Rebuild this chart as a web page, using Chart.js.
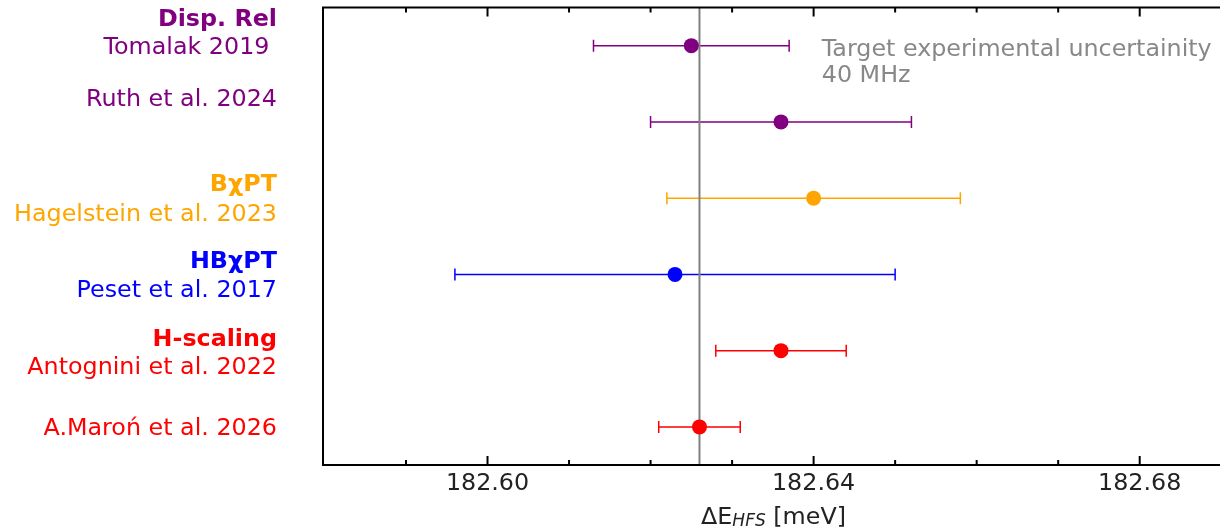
<!DOCTYPE html>
<html>
<head>
<meta charset="utf-8">
<script src="https://cdn.jsdelivr.net/npm/chart.js@4/dist/chart.umd.min.js"></script>
<style>
html,body{margin:0;padding:0;background:#fff;overflow:hidden;}
#wrap{width:1220px;height:531px;position:relative;}
</style>
</head>
<body>
<div id="wrap"><canvas id="c" width="1220" height="531"></canvas></div>
<script>
// ---- data ----
const studies = ['Tomalak 2019', 'Ruth et al. 2024', 'Hagelstein et al. 2023', 'Peset et al. 2017', 'Antognini et al. 2022', 'A.Maroń et al. 2026'];
const rowPositions = [0, 1, 2, 3, 4, 5];
const centralValues = [182.625, 182.636, 182.640, 182.623, 182.636, 182.626];
const uncertainties = [0.012, 0.016, 0.018, 0.027, 0.008, 0.005];
const pointColors = ['#800080', '#800080', '#FFA500', '#0000FF', '#FF0000', '#FF0000'];
const referenceValue = 182.626;

const majorTicks = [182.60, 182.64, 182.68];
const minorTicks = [182.59, 182.61, 182.62, 182.63, 182.65, 182.66, 182.67];

const labelTexts = ['Disp. Rel', 'Tomalak 2019 ', 'Ruth et al. 2024', 'BχPT', 'Hagelstein et al. 2023', 'HBχPT', 'Peset et al. 2017', 'H-scaling', 'Antognini et al. 2022', 'A.Maroń et al. 2026'];
const labelRows = [-0.37, -0.01, 0.68, 1.79, 2.18, 2.8, 3.18, 3.82, 4.19, 4.99];
const labelBold = [true, false, false, true, false, true, false, true, false, false];
const labelColors = ['#800080', '#800080', '#800080', '#FFA500', '#FFA500', '#0000FF', '#0000FF', '#FF0000', '#FF0000', '#FF0000'];

const noteLines = ['Target experimental uncertainity', '40 MHz'];
const noteX = 182.641;
const noteRow = 0.19;

const FONT = "'DejaVu Sans', 'Liberation Sans', sans-serif";
const FS = 23.8;

const drawPlugin = {
  id: 'custom',
  beforeDatasetsDraw(chart) {
    const ctx = chart.ctx, xs = chart.scales.x, ys = chart.scales.y, a = chart.chartArea;
    ctx.save();
    for (let i = 0; i < centralValues.length; i++) {
      const y = ys.getPixelForValue(rowPositions[i]);
      const x1 = xs.getPixelForValue(centralValues[i] - uncertainties[i]);
      const x2 = xs.getPixelForValue(centralValues[i] + uncertainties[i]);
      ctx.strokeStyle = pointColors[i];
      ctx.lineWidth = 1.5;
      ctx.beginPath();
      ctx.moveTo(x1, y); ctx.lineTo(x2, y);
      ctx.moveTo(x1, y - 6); ctx.lineTo(x1, y + 6);
      ctx.moveTo(x2, y - 6); ctx.lineTo(x2, y + 6);
      ctx.stroke();
    }
    const xr = xs.getPixelForValue(referenceValue);
    ctx.strokeStyle = '#808080';
    ctx.lineWidth = 2;
    ctx.beginPath();
    ctx.moveTo(xr, a.top); ctx.lineTo(xr, a.bottom);
    ctx.stroke();
    ctx.restore();
  },
  afterDraw(chart) {
    const ctx = chart.ctx, xs = chart.scales.x, ys = chart.scales.y, a = chart.chartArea;
    ctx.save();
    ctx.strokeStyle = '#000';
    ctx.lineWidth = 2;
    ctx.beginPath();
    ctx.moveTo(chart.width + 2, a.top); ctx.lineTo(a.left, a.top); ctx.lineTo(a.left, a.bottom); ctx.lineTo(chart.width + 2, a.bottom);
    ctx.stroke();
    ctx.beginPath();
    majorTicks.forEach(v => {
      const x = xs.getPixelForValue(v);
      ctx.moveTo(x, a.bottom); ctx.lineTo(x, a.bottom - 9);
      ctx.moveTo(x, a.top); ctx.lineTo(x, a.top + 9);
    });
    minorTicks.forEach(v => {
      const x = xs.getPixelForValue(v);
      ctx.moveTo(x, a.bottom); ctx.lineTo(x, a.bottom - 5);
      ctx.moveTo(x, a.top); ctx.lineTo(x, a.top + 5);
    });
    ctx.stroke();
    ctx.textAlign = 'right';
    ctx.textBaseline = 'alphabetic';
    const capOff = 0.729 * FS / 2;
    for (let i = 0; i < labelTexts.length; i++) {
      ctx.font = (labelBold[i] ? 'bold ' : '') + FS + 'px ' + FONT;
      ctx.fillStyle = labelColors[i];
      ctx.fillText(labelTexts[i], 277, ys.getPixelForValue(labelRows[i]) + capOff);
    }
    ctx.textAlign = 'left';
    ctx.font = FS + 'px ' + FONT;
    ctx.fillStyle = '#888888';
    const nx = xs.getPixelForValue(noteX);
    const ny = ys.getPixelForValue(noteRow);
    ctx.fillText(noteLines[0], nx, ny - 13 + capOff);
    ctx.fillText(noteLines[1], nx, ny + 13 + capOff);
    const partA = 'ΔE', partB = 'HFS', partC = ' [meV]';
    ctx.font = FS + 'px ' + FONT;
    const wA = ctx.measureText(partA).width, wC = ctx.measureText(partC).width;
    ctx.font = 'italic 17px ' + FONT;
    const wB = ctx.measureText(partB).width;
    const total = wA + wB + wC;
    let x0 = (a.left + chart.width) / 2 + 2 - total / 2;
    const by = 524;
    ctx.fillStyle = '#222';
    ctx.font = FS + 'px ' + FONT;
    ctx.fillText(partA, x0, by);
    ctx.font = 'italic 17px ' + FONT;
    ctx.fillText(partB, x0 + wA, by + 2);
    ctx.font = FS + 'px ' + FONT;
    ctx.fillText(partC, x0 + wA + wB, by);
    ctx.restore();
  }
};

new Chart(document.getElementById('c'), {
  type: 'scatter',
  data: {
    datasets: [{
      label: 'ΔE_HFS',
      data: centralValues.map((v, i) => ({ x: v, y: rowPositions[i] })),
      pointBackgroundColor: pointColors,
      pointBorderWidth: 0,
      pointRadius: 7.5,
      pointHoverRadius: 7.5
    }]
  },
  options: {
    responsive: false,
    animation: false,
    events: [],
    layout: { padding: { left: 323, right: 0, top: 5, bottom: 27.44 } },
    plugins: { legend: { display: false }, tooltip: { enabled: false } },
    scales: {
      x: {
        type: 'linear',
        min: 182.57982,
        max: 182.68893,
        afterBuildTicks: s => { s.ticks = majorTicks.map(v => ({ value: v })); },
        afterFit: s => { s.paddingLeft = 0; s.paddingRight = 0; },
        ticks: {
          callback: v => Number(v).toFixed(2),
          font: { family: FONT, size: FS },
          color: '#222',
          padding: 5,
          maxRotation: 0,
          autoSkip: false
        },
        grid: { display: false, drawTicks: false },
        border: { display: false }
      },
      y: {
        display: false,
        min: -0.5,
        max: 5.5,
        reverse: true
      }
    }
  },
  plugins: [drawPlugin]
});
</script>
</body>
</html>
